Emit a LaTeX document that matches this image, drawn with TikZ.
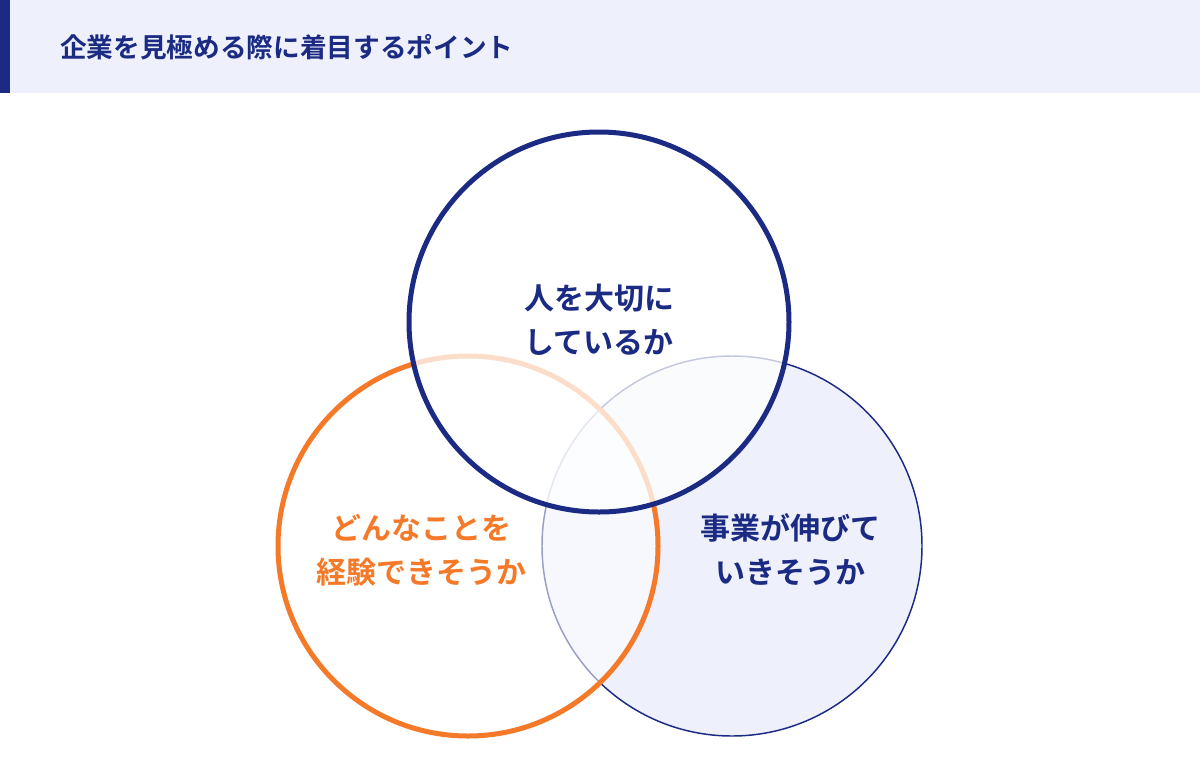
\documentclass[tikz,border=0pt]{standalone}
\usepackage{fontspec}
\newfontfamily\jp{Noto Sans CJK JP Bold}
\definecolor{navy}{HTML}{1B2A83}
\definecolor{orng}{HTML}{F47A2A}
\definecolor{lav}{HTML}{EEF0FB}
\begin{document}
\begin{tikzpicture}[x=0.75pt,y=-0.75pt,
  lbl/.style={font=\jp\fontsize{22.5}{33}\selectfont,align=center,inner sep=0pt}]
\useasboundingbox (0,0) rectangle (1200,776);
\fill[white] (0,0) rectangle (1200,776);
\fill[lav] (0,0) rectangle (1200,93);
\fill[navy] (0,0) rectangle (10,93);
\node[anchor=west,font=\jp\fontsize{20}{24}\selectfont,text=navy,inner sep=0pt] (title) at (60,47) {企業を見極める際に着目するポイント};
% right circle
\fill[lav] (732,546) circle (190);
\draw[navy,line width=1.1pt] (732,546) circle (190);
% left circle
\fill[white,opacity=0.55] (468,546) circle (190);
\draw[orng,line width=3.75pt] (468,546) circle (190);
% top circle
\fill[white,opacity=0.75] (599,322) circle (190);
\draw[navy,line width=3.75pt] (599,322) circle (190);
\node[lbl,text=navy] (t1) at (599,320) {人を大切に\\しているか};
\node[lbl,text=orng] (t2) at (421,550) {どんなことを\\経験できそうか};
\node[lbl,text=navy] (t3) at (790,550) {事業が伸びて\\いきそうか};
\end{tikzpicture}
\end{document}
